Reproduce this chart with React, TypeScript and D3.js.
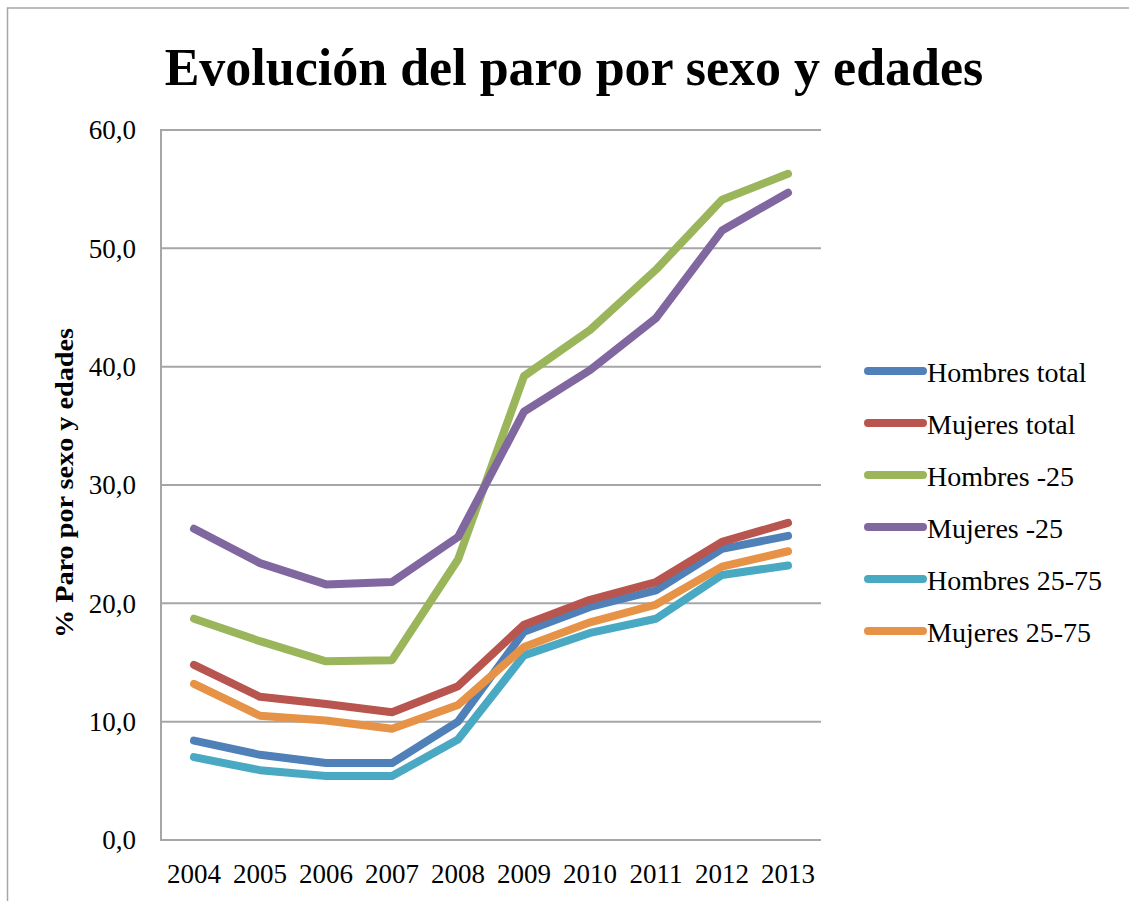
import React from "react";
import * as d3 from "d3";

const years = ["2004", "2005", "2006", "2007", "2008", "2009", "2010", "2011", "2012", "2013"];
const hombresTotal = [8.4, 7.2, 6.5, 6.5, 10.0, 17.6, 19.7, 21.1, 24.6, 25.7];
const mujeresTotal = [14.8, 12.1, 11.5, 10.8, 13.0, 18.2, 20.3, 21.8, 25.2, 26.8];
const hombres25 = [18.7, 16.8, 15.1, 15.2, 23.7, 39.2, 43.1, 48.2, 54.1, 56.3];
const mujeres25 = [26.3, 23.4, 21.6, 21.8, 25.6, 36.2, 39.7, 44.1, 51.5, 54.7];
const hombres2575 = [7.0, 5.9, 5.4, 5.4, 8.5, 15.6, 17.5, 18.7, 22.4, 23.2];
const mujeres2575 = [13.2, 10.5, 10.1, 9.4, 11.4, 16.3, 18.4, 19.9, 23.1, 24.4];
const seriesNames = ["Hombres total", "Mujeres total", "Hombres -25", "Mujeres -25", "Hombres 25-75", "Mujeres 25-75"];
const seriesColors = ["#4f81b8", "#b9554f", "#9bb55b", "#8067a0", "#4aa9c2", "#e69347"];
const yTicks = [0, 10, 20, 30, 40, 50, 60];
const title = "Evolución del paro por sexo y edades";
const yTitle = "% Paro por sexo y edades";

const seriesValues = [hombresTotal, mujeresTotal, hombres25, mujeres25, hombres2575, mujeres2575];

export default function App() {
  const W = 1129, H = 901;
  const left = 161, right = 821, top = 130, bottom = 840;
  const x = d3.scaleBand<string>().domain(years).range([left, right]);
  const y = d3.scaleLinear().domain([0, 60]).range([bottom, top]);
  const line = d3.line<number>()
    .x((_, i) => (x(years[i]) as number) + x.bandwidth() / 2)
    .y((v) => y(v));
  const font = "'Liberation Serif', 'DejaVu Serif', serif";
  const fmt = (v: number) => v.toFixed(1).replace(".", ",");
  const grid = "#a6a6a6";
  return (
    <svg width={W} height={H} style={{ position: "absolute", left: 0, top: 0, background: "#fff" }} fontFamily={font}>
      <rect x={7.5} y={8} width={W + 20} height={H + 20} fill="#fff" stroke="#a6a6a6" strokeWidth={1.5} />
      <text x={574} y={85} textAnchor="middle" fontSize={52} fontWeight="bold" fill="#000">{title}</text>
      {yTicks.map((t) => (
        <g key={t}>
          {t > 0 && <line x1={left} x2={right} y1={y(t)} y2={y(t)} stroke={grid} strokeWidth={2} />}
          <text x={136} y={y(t)} dy="0.35em" textAnchor="end" fontSize={27} fill="#000">{fmt(t)}</text>
        </g>
      ))}
      <line x1={left} x2={right} y1={bottom} y2={bottom} stroke={grid} strokeWidth={2} />
      <line x1={left} x2={left} y1={top - 1} y2={bottom + 1} stroke={grid} strokeWidth={2} />
      {years.map((yr) => (
        <text key={yr} x={(x(yr) as number) + x.bandwidth() / 2} y={883} textAnchor="middle" fontSize={27} fill="#000">{yr}</text>
      ))}
      <text transform={`translate(73,483) rotate(-90)`} textAnchor="middle" fontSize={26} fontWeight="bold" fill="#000" textLength={310} lengthAdjust="spacingAndGlyphs">{yTitle}</text>
      {seriesValues.map((vals, i) => (
        <path key={i} d={line(vals) as string} fill="none" stroke={seriesColors[i]} strokeWidth={8} strokeLinejoin="round" strokeLinecap="round" />
      ))}
      {seriesNames.map((n, i) => {
        const ly = 371 + i * 52;
        return (
          <g key={n}>
            <line x1={868} x2={923} y1={ly} y2={ly} stroke={seriesColors[i]} strokeWidth={8} strokeLinecap="round" />
            <text x={927} y={ly + 11} fontSize={28} fill="#000">{n}</text>
          </g>
        );
      })}
    </svg>
  );
}
